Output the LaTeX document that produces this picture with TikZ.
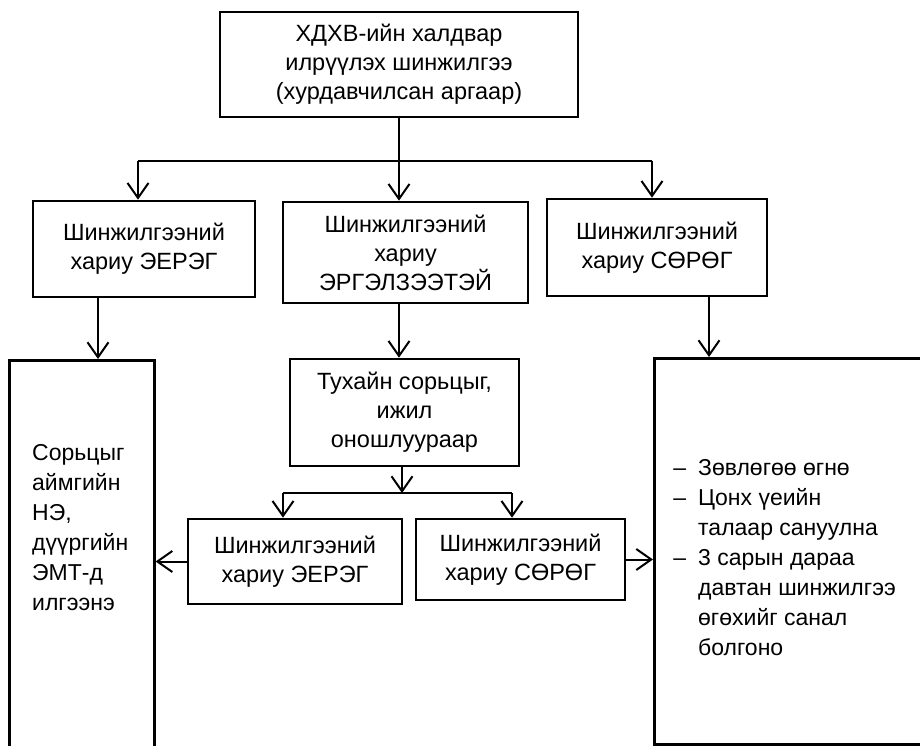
\documentclass[tikz,border=0pt]{standalone}
\usepackage{fontspec}
\setmainfont{Liberation Sans}
\usetikzlibrary{arrows.meta}
\begin{document}
\begin{tikzpicture}[x=1pt,y=-1pt,
  box/.style={draw, line width=2.6pt, rectangle, inner sep=0pt, align=center,
    font=\fontsize{23.5}{29}\selectfont},
  txt/.style={inner sep=0pt, align=left, anchor=north west,
    font=\fontsize{23}{30}\selectfont},
  conn/.style={line width=2pt},
  arr/.style={conn, -{Straight Barb[length=15pt,width=21pt]}}]
\useasboundingbox[fill=white] (0,0) rectangle (920,746);

\node[box, minimum width=358pt, minimum height=105pt] (top) at (399,64.5)
  {ХДХВ-ийн халдвар\\илрүүлэх шинжилгээ\\(хурдавчилсан аргаар)};

\node[box, minimum width=222pt, minimum height=96pt] (l2) at (144,249)
  {Шинжилгээний\\хариу ЭЕРЭГ};
\node[box, minimum width=245pt, minimum height=101pt] (m2) at (405.5,252.5)
  {Шинжилгээний\\хариу\\ЭРГЭЛЗЭЭТЭЙ};
\node[box, minimum width=220pt, minimum height=97pt] (r2) at (657,247.5)
  {Шинжилгээний\\хариу СӨРӨГ};

\node[box, minimum width=229pt, minimum height=107pt] (tux) at (404.5,412.5)
  {Тухайн сорьцыг,\\ижил\\оношлуураар};

\node[box, minimum width=214pt, minimum height=85pt] (l4) at (295,561.5)
  {Шинжилгээний\\хариу ЭЕРЭГ};
\node[box, minimum width=209pt, minimum height=81pt] (r4) at (520.5,559.5)
  {Шинжилгээний\\хариу СӨРӨГ};

\begin{scope}
  \clip (0,0) rectangle (920,746);
  \node[box, minimum width=145pt, minimum height=420pt, anchor=north west] (ltall) at (8,359) {};
  \node[box, minimum width=290pt, minimum height=386pt, anchor=north west] (rtall) at (653,357) {};
\end{scope}

\node[txt] (ltext) at (32,444)
  {Сорьцыг\\аймгийн\\НЭ,\\дүүргийн\\ЭМТ-д\\илгээнэ};
\node[txt] (rtext) at (698,459)
  {\llap{–\hspace{12pt}}Зөвлөгөө өгнө\\
   \llap{–\hspace{12pt}}Цонх үеийн\\
   талаар сануулна\\
   \llap{–\hspace{12pt}}3 сарын дараа\\
   давтан шинжилгээ\\
   өгөхийг санал\\
   болгоно};

% first level branches
\coordinate (bl) at (138,161);
\coordinate (brr) at (652,161);
\draw[conn] (bl) -- (brr);
\draw[arr] (top.south) -- (top.south |- m2.north);
\draw[arr] (bl) -- (bl |- l2.north);
\draw[arr] (brr) -- (brr |- r2.north);

% second level
\draw[arr] ([xshift=-46pt]l2.south) -- ([xshift=-46pt]l2.south |- ltall.north);
\draw[arr] (top.south |- m2.south) -- (top.south |- tux.north);
\draw[arr] ([xshift=52pt]r2.south) -- ([xshift=52pt]r2.south |- rtall.north);

% third level
\coordinate (b2) at (402,493);
\coordinate (b2l) at (283,493);
\coordinate (b2r) at (512,493);
\draw[arr] (tux.south -| b2) -- (b2);
\draw[conn] (b2l) -- (b2r);
\draw[arr] (b2l) -- (b2l |- l4.north);
\draw[arr] (b2r) -- (b2r |- r4.north);

\draw[arr] (l4.west) -- (l4.west -| ltall.east);
\draw[arr] (r4.east) -- (r4.east -| rtall.west);
\end{tikzpicture}
\end{document}
